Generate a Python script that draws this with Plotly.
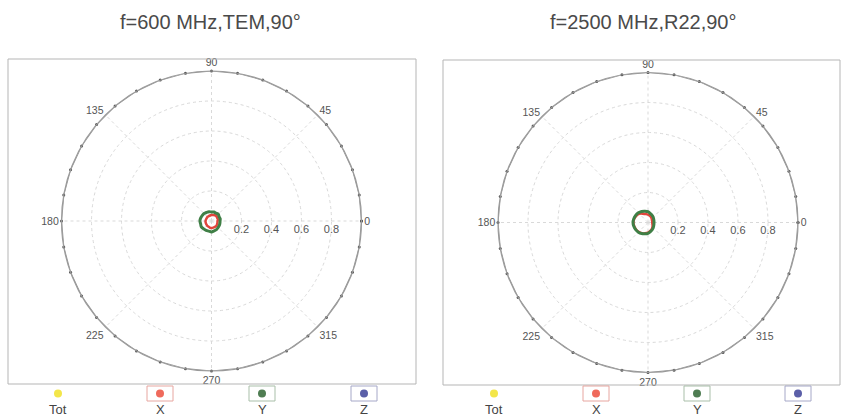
import plotly.graph_objects as go

W, H = 841, 418

titles = ["f=600 MHz,TEM,90°", "f=2500 MHz,R22,90°"]
theta = [0, 15, 30, 45, 60, 75, 90, 105, 120, 135, 150, 165, 180,
         195, 210, 225, 240, 255, 270, 285, 300, 315, 330, 345, 360]

x_600 = [0.040, 0.044, 0.043, 0.046, 0.044, 0.042, 0.040, 0.038, 0.037, 0.038, 0.037, 0.038, 0.040,
         0.040, 0.041, 0.042, 0.043, 0.045, 0.047, 0.046, 0.045, 0.046, 0.043, 0.041, 0.040]
y_600 = [0.057, 0.060, 0.058, 0.064, 0.060, 0.062, 0.060, 0.064, 0.066, 0.070, 0.072, 0.075, 0.077,
         0.075, 0.078, 0.074, 0.072, 0.070, 0.073, 0.068, 0.066, 0.062, 0.060, 0.058, 0.057]
x_2500 = [0.028, 0.029, 0.031, 0.035, 0.041, 0.047, 0.052, 0.058, 0.068, 0.082, 0.090, 0.095, 0.097,
          0.095, 0.092, 0.088, 0.082, 0.075, 0.068, 0.058, 0.050, 0.042, 0.035, 0.030, 0.028]
y_2500 = [0.040, 0.041, 0.044, 0.049, 0.055, 0.062, 0.072, 0.078, 0.085, 0.091, 0.095, 0.098, 0.100,
          0.098, 0.095, 0.091, 0.085, 0.078, 0.072, 0.063, 0.056, 0.049, 0.044, 0.041, 0.040]

ring_theta = [0, 10, 20, 30, 40, 50, 60, 70, 80, 90, 100, 110, 120, 130, 140, 150, 160, 170,
              180, 190, 200, 210, 220, 230, 240, 250, 260, 270, 280, 290, 300, 310, 320, 330, 340, 350, 360]
ring_r = [1.0] * len(ring_theta)

angle_ticks = [0, 45, 90, 135, 180, 225, 270, 315]
radial_ticks = [0.2, 0.4, 0.6, 0.8]
radial_labels = ["0.2", "0.4", "0.6", "0.8"]

legend_names = ["Tot", "X", "Y", "Z"]
legend_colors = ["#f3e64a", "#ef6a5c", "#4f7d52", "#5b5fa8"]
legend_borders = ["#f6f3c8", "#e7a6a0", "#a9bfa9", "#a6a8c8"]

RED = "#e0453c"
GREEN = "#3f7f46"

panels = [
    dict(cx=211.5, cy=221.0, frame=(8, 59, 416, 384), title_x=210,
         legend_x=[58, 160, 262, 364], x=x_600, y=y_600),
    dict(cx=648.0, cy=222.5, frame=(443, 60, 840, 385), title_x=643,
         legend_x=[494, 596, 697, 798], x=x_2500, y=y_2500),
]
R = 150.0

def px(x):
    return x / W

def py(y):
    return 1 - y / H

fig = go.Figure()
shapes = []
annotations = []

for i, p in enumerate(panels):
    pid = "polar" if i == 0 else "polar2"
    fig.add_trace(go.Scatterpolar(r=ring_r, theta=ring_theta, mode="lines+markers",
                                  line=dict(color="#9a9a9a", width=1.2),
                                  marker=dict(color="#555555", size=3),
                                  cliponaxis=False, subplot=pid, showlegend=False, hoverinfo="skip"))
    fig.add_trace(go.Scatterpolar(r=p["x"], theta=theta, mode="lines",
                                  line=dict(color=RED, width=2.5, shape="spline"),
                                  subplot=pid, showlegend=False, name="X"))
    fig.add_trace(go.Scatterpolar(r=p["y"], theta=theta, mode="lines",
                                  line=dict(color=GREEN, width=3, shape="spline"),
                                  subplot=pid, showlegend=False, name="Y"))

    polar = dict(
        domain=dict(x=[px(p["cx"] - R), px(p["cx"] + R)], y=[py(p["cy"] + R), py(p["cy"] - R)]),
        bgcolor="white",
        radialaxis=dict(range=[0, 1], angle=0, side="clockwise", showline=False,
                        tickvals=radial_ticks, ticktext=radial_labels, ticks="",
                        tickfont=dict(size=11, color="#555555"),
                        gridcolor="#d9d9d9", griddash="dot", gridwidth=1),
        angularaxis=dict(direction="counterclockwise", rotation=0, tickvals=angle_ticks,
                         ticks="", tickfont=dict(size=10.5, color="#555555"),
                         linecolor="#9a9a9a", linewidth=1.2, showline=True,
                         gridcolor="#d9d9d9", griddash="dot", gridwidth=1),
    )
    fig.update_layout(**{pid: polar})

    x0, y0, x1, y1 = p["frame"]
    shapes.append(dict(type="rect", xref="paper", yref="paper", x0=px(x0), x1=px(x1),
                       y0=py(y1), y1=py(y0), line=dict(color="#b5b5b5", width=1)))
    annotations.append(dict(text=titles[i], x=px(p["title_x"]), y=py(22), xref="paper", yref="paper",
                            showarrow=False, xanchor="center", yanchor="middle",
                            font=dict(size=20, color="#4a4a4a", family="Liberation Sans, Arial")))
    for j, lx in enumerate(p["legend_x"]):
        if j > 0:
            shapes.append(dict(type="rect", xref="paper", yref="paper", x0=px(lx - 13), x1=px(lx + 13),
                               y0=py(401), y1=py(386), line=dict(color=legend_borders[j], width=1)))
        shapes.append(dict(type="circle", xref="paper", yref="paper", x0=px(lx - 4), x1=px(lx + 4),
                           y0=py(397.5), y1=py(389.5), fillcolor=legend_colors[j],
                           line=dict(color=legend_colors[j], width=0)))
        annotations.append(dict(text=legend_names[j], x=px(lx), y=py(409), xref="paper", yref="paper",
                                showarrow=False, xanchor="center", yanchor="middle",
                                font=dict(size=13, color="#444444", family="Liberation Sans, Arial")))

fig.update_layout(width=W, height=H, margin=dict(l=0, r=0, t=0, b=0),
                  paper_bgcolor="white", plot_bgcolor="white", showlegend=False,
                  font=dict(family="Liberation Sans, Arial", color="#555555"),
                  shapes=shapes, annotations=annotations)

fig.write_html("out.html", config={"displayModeBar": False},
               post_script="document.body.style.margin='0px';document.body.style.overflow='hidden';")
